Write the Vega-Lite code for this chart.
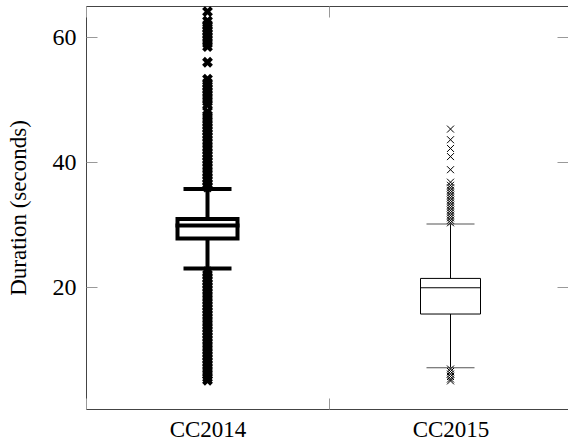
{
  "$schema": "https://vega.github.io/schema/vega-lite/v6.json",
  "width": 482,
  "height": 403,
  "autosize": {"type": "none"},
  "padding": {"left": 86, "top": 6, "right": 0, "bottom": 31},
  "background": "white",
  "config": {
    "view": {"stroke": "#444", "strokeWidth": 1},
    "font": "Liberation Serif",
    "tick": {"opacity": 1},
    "axis": {"domain": false, "grid": false, "tickColor": "#999", "tickWidth": 1, "labelColor": "black", "titleColor": "black", "labelFont": "Liberation Serif", "titleFont": "Liberation Serif", "titleFontWeight": "normal"}
  },
  "datasets": {
    "stats": [
      {"series": "CC2014", "lower": 23.0, "q1": 27.8, "median": 29.85, "q3": 30.9, "upper": 35.7},
      {"series": "CC2015", "lower": 7.1, "q1": 15.7, "median": 19.9, "q3": 21.4, "upper": 30.1}
    ],
    "outliers": [
      {"series": "CC2014", "value": 36.0}, {"series": "CC2014", "value": 36.5}, {"series": "CC2014", "value": 37.0}, {"series": "CC2014", "value": 37.5},
      {"series": "CC2014", "value": 38.0}, {"series": "CC2014", "value": 38.5}, {"series": "CC2014", "value": 39.0}, {"series": "CC2014", "value": 39.5},
      {"series": "CC2014", "value": 40.0}, {"series": "CC2014", "value": 40.5}, {"series": "CC2014", "value": 41.0}, {"series": "CC2014", "value": 41.5},
      {"series": "CC2014", "value": 42.0}, {"series": "CC2014", "value": 42.5}, {"series": "CC2014", "value": 43.0}, {"series": "CC2014", "value": 43.5},
      {"series": "CC2014", "value": 44.0}, {"series": "CC2014", "value": 44.5}, {"series": "CC2014", "value": 45.0}, {"series": "CC2014", "value": 45.5},
      {"series": "CC2014", "value": 46.0}, {"series": "CC2014", "value": 46.5}, {"series": "CC2014", "value": 47.0}, {"series": "CC2014", "value": 47.5},
      {"series": "CC2014", "value": 48.1}, {"series": "CC2014", "value": 49.2}, {"series": "CC2014", "value": 49.7}, {"series": "CC2014", "value": 50.2},
      {"series": "CC2014", "value": 50.7}, {"series": "CC2014", "value": 51.2}, {"series": "CC2014", "value": 51.7}, {"series": "CC2014", "value": 52.2},
      {"series": "CC2014", "value": 52.7}, {"series": "CC2014", "value": 53.3}, {"series": "CC2014", "value": 56.0}, {"series": "CC2014", "value": 58.5},
      {"series": "CC2014", "value": 59.0}, {"series": "CC2014", "value": 59.5}, {"series": "CC2014", "value": 60.0}, {"series": "CC2014", "value": 60.5},
      {"series": "CC2014", "value": 61.0}, {"series": "CC2014", "value": 61.5}, {"series": "CC2014", "value": 62.0}, {"series": "CC2014", "value": 62.6},
      {"series": "CC2014", "value": 64.1},
      {"series": "CC2014", "value": 22.5}, {"series": "CC2014", "value": 22.0}, {"series": "CC2014", "value": 21.5}, {"series": "CC2014", "value": 21.0},
      {"series": "CC2014", "value": 20.5}, {"series": "CC2014", "value": 20.0}, {"series": "CC2014", "value": 19.5}, {"series": "CC2014", "value": 19.0},
      {"series": "CC2014", "value": 18.5}, {"series": "CC2014", "value": 18.0}, {"series": "CC2014", "value": 17.5}, {"series": "CC2014", "value": 17.0},
      {"series": "CC2014", "value": 16.5}, {"series": "CC2014", "value": 16.0}, {"series": "CC2014", "value": 15.5}, {"series": "CC2014", "value": 15.0},
      {"series": "CC2014", "value": 14.5}, {"series": "CC2014", "value": 14.0}, {"series": "CC2014", "value": 13.5}, {"series": "CC2014", "value": 13.0},
      {"series": "CC2014", "value": 12.5}, {"series": "CC2014", "value": 12.0}, {"series": "CC2014", "value": 11.5}, {"series": "CC2014", "value": 11.0},
      {"series": "CC2014", "value": 10.5}, {"series": "CC2014", "value": 10.0}, {"series": "CC2014", "value": 9.5}, {"series": "CC2014", "value": 9.0},
      {"series": "CC2014", "value": 8.5}, {"series": "CC2014", "value": 8.0}, {"series": "CC2014", "value": 7.5}, {"series": "CC2014", "value": 7.0},
      {"series": "CC2014", "value": 6.5}, {"series": "CC2014", "value": 6.0}, {"series": "CC2014", "value": 5.5}, {"series": "CC2014", "value": 5.1},
      {"series": "CC2015", "value": 30.3}, {"series": "CC2015", "value": 30.7}, {"series": "CC2015", "value": 31.1}, {"series": "CC2015", "value": 31.5},
      {"series": "CC2015", "value": 31.9}, {"series": "CC2015", "value": 32.3}, {"series": "CC2015", "value": 32.7}, {"series": "CC2015", "value": 33.1},
      {"series": "CC2015", "value": 33.5}, {"series": "CC2015", "value": 33.9}, {"series": "CC2015", "value": 34.3}, {"series": "CC2015", "value": 34.7},
      {"series": "CC2015", "value": 35.1}, {"series": "CC2015", "value": 35.5}, {"series": "CC2015", "value": 35.9}, {"series": "CC2015", "value": 36.3},
      {"series": "CC2015", "value": 36.8}, {"series": "CC2015", "value": 38.8}, {"series": "CC2015", "value": 40.9}, {"series": "CC2015", "value": 42.2},
      {"series": "CC2015", "value": 43.6}, {"series": "CC2015", "value": 45.3},
      {"series": "CC2015", "value": 6.9}, {"series": "CC2015", "value": 6.5}, {"series": "CC2015", "value": 6.1}, {"series": "CC2015", "value": 5.7},
      {"series": "CC2015", "value": 5.3}, {"series": "CC2015", "value": 5.0}
    ]
  },
  "layer": [
    {
      "data": {"name": "stats"},
      "mark": {"type": "rule", "color": "black"},
      "encoding": {
        "x": {
          "field": "series", "type": "nominal",
          "scale": {"type": "band", "domain": ["CC2014", "CC2015"], "range": [0, 486], "paddingInner": 0, "paddingOuter": 0},
          "axis": {"orient": "bottom", "title": null, "tickBand": "extent", "tickSize": -11, "labelPadding": 20, "labelAngle": 0, "labelFontSize": 23, "labelBaseline": "top"}
        },
        "y": {
          "field": "lower", "type": "quantitative",
          "scale": {"domain": [0.5, 65], "nice": false, "zero": false},
          "axis": {"orient": "left", "values": [20, 40, 60], "tickSize": -11, "labelPadding": 21, "labelFontSize": 24, "title": "Duration (seconds)", "titleFontSize": 23, "titlePadding": 22}
        },
        "y2": {"field": "upper"},
        "strokeWidth": {"field": "series", "type": "nominal", "scale": {"domain": ["CC2014", "CC2015"], "range": [4, 1]}, "legend": null}
      }
    },
    {
      "data": {"name": "stats"},
      "mark": {"type": "bar", "width": 60, "fill": "white", "stroke": "black", "opacity": 1},
      "encoding": {
        "x": {"field": "series", "type": "nominal", "axis": {"orient": "top", "title": null, "labels": false, "tickBand": "extent", "tickSize": -11}},
        "y": {"field": "q1", "type": "quantitative", "axis": {"orient": "right", "title": null, "labels": false, "values": [20, 40, 60], "tickSize": -11}},
        "y2": {"field": "q3"},
        "strokeWidth": {"field": "series", "type": "nominal", "legend": null}
      }
    },
    {
      "data": {"name": "stats"},
      "transform": [{"filter": "datum.series == 'CC2014'"}],
      "mark": {"type": "tick", "orient": "horizontal", "size": 64, "thickness": 4, "color": "black", "opacity": 1},
      "encoding": {
        "x": {"field": "series", "type": "nominal", "axis": null},
        "y": {"field": "median", "type": "quantitative", "axis": null}
      }
    },
    {
      "data": {"name": "stats"},
      "transform": [{"filter": "datum.series == 'CC2015'"}],
      "mark": {"type": "tick", "orient": "horizontal", "size": 60, "thickness": 1, "color": "black", "opacity": 1},
      "encoding": {
        "x": {"field": "series", "type": "nominal", "axis": null},
        "y": {"field": "median", "type": "quantitative", "axis": null}
      }
    },
    {
      "data": {"name": "stats"},
      "transform": [{"filter": "datum.series == 'CC2014'"}],
      "mark": {"type": "tick", "orient": "horizontal", "size": 48, "thickness": 4, "color": "black", "opacity": 1},
      "encoding": {
        "x": {"field": "series", "type": "nominal", "axis": null},
        "y": {"field": "lower", "type": "quantitative", "axis": null}
      }
    },
    {
      "data": {"name": "stats"},
      "transform": [{"filter": "datum.series == 'CC2014'"}],
      "mark": {"type": "tick", "orient": "horizontal", "size": 48, "thickness": 4, "color": "black", "opacity": 1},
      "encoding": {
        "x": {"field": "series", "type": "nominal", "axis": null},
        "y": {"field": "upper", "type": "quantitative", "axis": null}
      }
    },
    {
      "data": {"name": "stats"},
      "transform": [{"filter": "datum.series == 'CC2015'"}],
      "mark": {"type": "tick", "orient": "horizontal", "size": 48, "thickness": 1, "color": "#555", "opacity": 1},
      "encoding": {
        "x": {"field": "series", "type": "nominal", "axis": null},
        "y": {"field": "lower", "type": "quantitative", "axis": null}
      }
    },
    {
      "data": {"name": "stats"},
      "transform": [{"filter": "datum.series == 'CC2015'"}],
      "mark": {"type": "tick", "orient": "horizontal", "size": 48, "thickness": 1, "color": "#555", "opacity": 1},
      "encoding": {
        "x": {"field": "series", "type": "nominal", "axis": null},
        "y": {"field": "upper", "type": "quantitative", "axis": null}
      }
    },
    {
      "data": {"name": "outliers"},
      "mark": {"type": "point", "shape": "M-1,-1L1,1M-1,1L1,-1", "filled": false, "color": "black", "opacity": 1},
      "encoding": {
        "x": {"field": "series", "type": "nominal", "axis": null},
        "y": {"field": "value", "type": "quantitative", "axis": null},
        "strokeWidth": {"field": "series", "type": "nominal", "scale": {"domain": ["CC2014", "CC2015"], "range": [2.8, 1]}, "legend": null},
        "size": {"field": "series", "type": "nominal", "scale": {"domain": ["CC2014", "CC2015"], "range": [64, 49]}, "legend": null}
      }
    }
  ]
}
